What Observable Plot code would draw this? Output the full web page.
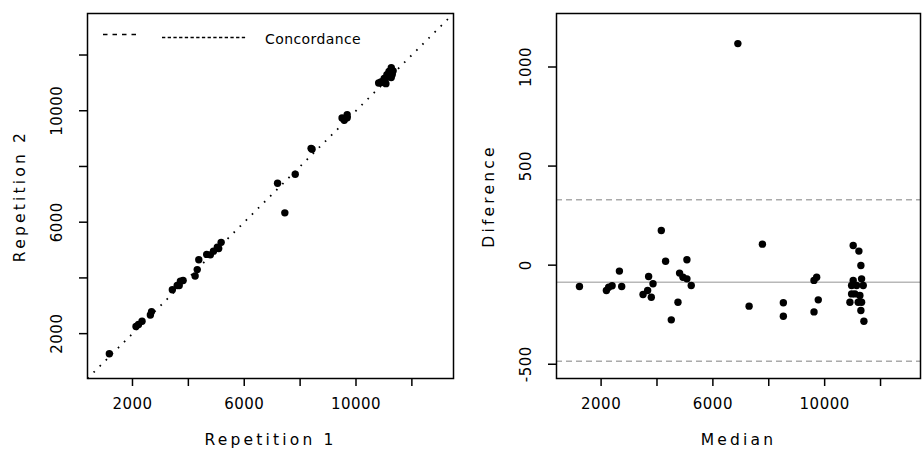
<!DOCTYPE html>
<html><head><meta charset="utf-8">
<script src="https://cdn.jsdelivr.net/npm/d3@7"></script>
<script src="https://cdn.jsdelivr.net/npm/@observablehq/plot@0.6"></script>
<style>
body{margin:0;background:#fff;}
#wrap{position:relative;width:923px;height:452px;display:flex;overflow:hidden;}
#wrap svg text{font-family:"DejaVu Sans";}
</style></head><body><div id="wrap"></div>
<script>
// Repetition values
const rep1 = [1172,2126,2216,2342,2640,2683,3672,3811,3427,3601,3716,4242,4318,4374,4657,4788,4899,5085,5037,5174,
  7453,7193,7825,8427,8393,9501,9684,9684,9580,11071,11261,11296,11287,10913,11092,11329,10892,11010,11185,10811,
  11107,11228,11182,11263,10983];
const rep2 = [1280,2254,2327,2446,2670,2791,3729,3905,3575,3729,3878,4067,4298,4650,4844,4828,4960,5058,5106,5277,
  6335,7400,7719,8617,8651,9737,9859,9745,9657,10972,11190,11298,11356,11016,11195,11432,11037,11155,11338,10998,
  11294,11415,11411,11546,11060];
const repTicks = [2000,4000,6000,8000,10000,12000];
const repTickLabels = [2000,6000,10000];
const diffTicks = [-500,0,500,1000];
const diffTickLabels = [-500,0,500,1000];
const meanDiff = -86;
const upperLimit = 330;
const lowerLimit = -485;
const repDomain = [390,13490];
const medianDomain = [404,13430];
const diffDomain = [-572,1270];
const legendLabel = "Concordance";
const xLabelLeft = "Repetition 1", yLabelLeft = "Repetition 2";
const xLabelRight = "Median", yLabelRight = "Diference";

const rows = rep1.map((r1,i)=>({r1, r2: rep2[i], median:(r1+rep2[i])/2, diff: r1-rep2[i]}));
const identity = repDomain.map(v=>({v}));
const labels = [xLabelLeft,yLabelLeft,xLabelRight,yLabelRight];

const baseStyle = {fontFamily:"DejaVu Sans", fontSize:"15px", color:"black", background:"white", overflow:"visible"};
const blank = () => "";
const plain = d => String(d);

function common(xTicks, xTickLabels, yTicks, yTickLabels, xLab, yLab){
  return [
    Plot.frame({stroke:"black", strokeWidth:1.5}),
    Plot.axisX({ticks:xTicks, tickSize:8, tickFormat:blank, strokeWidth:1.5, label:null}),
    Plot.axisX({ticks:xTickLabels, tickSize:0, tickPadding:20, tickFormat:plain, fontSize:15, label:null}),
    Plot.axisY({ticks:yTicks, tickSize:8, tickFormat:blank, strokeWidth:1.5, label:null}),
    Plot.text(yTickLabels, {y:d=>d, text:plain, frameAnchor:"left", dx:-30, rotate:-90, textAnchor:"middle", lineAnchor:"middle", fontSize:15}),
    Plot.text([xLab], {text:d=>d, frameAnchor:"bottom", dy:55, lineAnchor:"top", fontSize:15.5}),
    Plot.text([yLab], {text:d=>d, frameAnchor:"left", dx:-67, rotate:-90, textAnchor:"middle", lineAnchor:"middle", fontSize:15.5})
  ];
}

const left = Plot.plot({
  width:461, height:452, marginLeft:87, marginRight:8, marginTop:13, marginBottom:74,
  style: baseStyle,
  x:{domain:repDomain}, y:{domain:repDomain},
  marks:[
    Plot.line(identity, {x:"v", y:"v", stroke:"black", strokeWidth:1.8, strokeDasharray:"1.6,7", strokeLinecap:"butt"}),
    Plot.dot(rows, {x:"r1", y:"r2", r:3.7, fill:"black"}),
    ...common(repTicks, repTickLabels, repTicks, repTickLabels, xLabelLeft, yLabelLeft)
  ]
});

const right = Plot.plot({
  width:462, height:452, marginLeft:95, marginRight:3, marginTop:13, marginBottom:74,
  style: baseStyle,
  x:{domain:medianDomain}, y:{domain:diffDomain},
  marks:[
    Plot.ruleY([upperLimit, lowerLimit], {stroke:"#aaaaaa", strokeWidth:1.5, strokeDasharray:"6,4"}),
    Plot.ruleY([meanDiff], {stroke:"#b8b8b8", strokeWidth:1.6}),
    Plot.dot(rows, {x:"median", y:"diff", r:3.7, fill:"black"}),
    ...common(repTicks, repTickLabels, diffTicks, diffTickLabels, xLabelRight, yLabelRight)
  ]
});

const wrap = document.getElementById("wrap");
for (const p of [left,right]) {
  p.querySelectorAll("text").forEach(t=>{
    t.style.letterSpacing = labels.includes(t.textContent) ? "3.2px" : "0.5px";
  });
  wrap.appendChild(p);
}

// legend overlay inside the left frame
const leg = d3.select(wrap).append("svg")
  .attr("width",923).attr("height",452)
  .style("position","absolute").style("left","0px").style("top","0px").style("pointer-events","none");
leg.append("line").attr("x1",103).attr("x2",137).attr("y1",34.5).attr("y2",34.5)
  .attr("stroke","black").attr("stroke-width",1.3).attr("stroke-dasharray","4.5,5");
leg.append("line").attr("x1",162).attr("x2",247).attr("y1",37.5).attr("y2",37.5)
  .attr("stroke","black").attr("stroke-width",1.3).attr("stroke-dasharray","3.3,2.4");
leg.append("text").attr("x",265).attr("y",44).text(legendLabel)
  .attr("font-family","DejaVu Sans").attr("font-size",14).style("letter-spacing","0.4px").attr("fill","black");
</script></body></html>
